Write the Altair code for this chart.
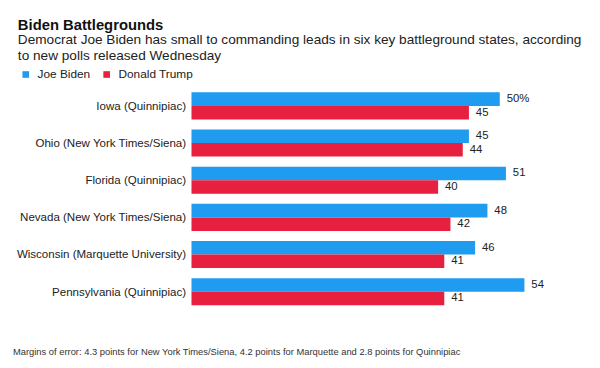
import altair as alt
import pandas as pd

states = [
    "Iowa (Quinnipiac)",
    "Ohio (New York Times/Siena)",
    "Florida (Quinnipiac)",
    "Nevada (New York Times/Siena)",
    "Wisconsin (Marquette University)",
    "Pennsylvania (Quinnipiac)",
]
biden = [50, 45, 51, 48, 46, 54]
trump = [45, 44, 40, 42, 41, 41]
candidates = ["Joe Biden", "Donald Trump"]
colors = ["#1F9BF0", "#E8203F"]

rows = []
for i, s in enumerate(states):
    for c, vals in zip(candidates, [biden, trump]):
        v = vals[i]
        lab = f"{v}%" if (i == 0 and c == "Joe Biden") else str(v)
        rows.append({"state": s, "candidate": c, "value": v, "label": lab})
df = pd.DataFrame(rows)

FONT = "Liberation Sans"
W, H = 375, 226
LEFT = -174

y = alt.Y("state:N", sort=states, title=None,
          scale=alt.Scale(paddingInner=0.27, paddingOuter=0.135),
          axis=alt.Axis(ticks=False, domain=False, labelPadding=6,
                        labelFontSize=11.7, labelColor="#222222", labelFont=FONT))
yoff = alt.YOffset("candidate:N", sort=candidates, scale=alt.Scale(paddingInner=0, paddingOuter=0))
x = alt.X("value:Q", scale=alt.Scale(domain=[0, 60]), axis=None)

base = alt.Chart(df).encode(y=y, yOffset=yoff, x=x)

bars = base.mark_bar().encode(
    color=alt.Color("candidate:N", sort=candidates,
                    scale=alt.Scale(domain=candidates, range=colors),
                    legend=alt.Legend(title=None, orient="none", direction="horizontal",
                                      legendX=LEFT, legendY=-19, symbolType="square",
                                      symbolSize=45, symbolStrokeWidth=0, labelFontSize=12,
                                      labelFont=FONT, labelColor="#222222", columnPadding=10,
                                      symbolOffset=0, labelOffset=6))
)

labels = base.mark_text(align="left", baseline="middle", dx=7, fontSize=11.5,
                        font=FONT, color="#222222").encode(text="label:N")

footer = alt.Chart(pd.DataFrame({"t": ["Margins of error: 4.3 points for New York Times/Siena, 4.2 points for Marquette and 2.8 points for Quinnipiac"]})).mark_text(
    align="left", baseline="middle", fontSize=9.5, font=FONT, color="#333333"
).encode(x=alt.value(LEFT - 7), y=alt.value(H + 42), text="t:N")

chart = alt.layer(bars, labels, footer).properties(
    width=W, height=H,
    title=alt.TitleParams(
        text="Biden Battlegrounds",
        subtitle=["Democrat Joe Biden has small to commanding leads in six key battleground states, according",
                  "to new polls released Wednesday"],
        anchor="start", frame="group", dx=LEFT - 2, offset=6,
        font=FONT, fontSize=15, fontWeight="bold", color="#111111",
        subtitleFont=FONT, subtitleFontSize=13.8, subtitleColor="#222222",
        subtitlePadding=0, subtitleLineHeight=16,
    ),
    padding={"left": 186, "top": 78, "right": 31, "bottom": 48},
    autosize=alt.AutoSizeParams(type="none"),
).configure(background="white").configure_view(stroke=None)

chart.save("out.html", embed_options={"renderer": "svg", "actions": False})
